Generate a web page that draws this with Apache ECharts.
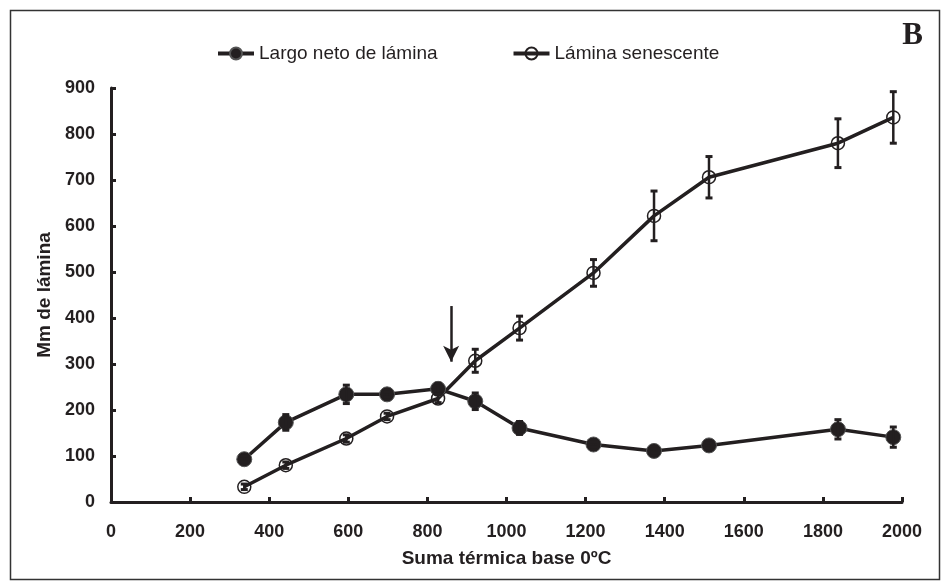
<!DOCTYPE html>
<html>
<head>
<meta charset="utf-8">
<script src="https://cdn.jsdelivr.net/npm/echarts@6/dist/echarts.min.js"></script>
<style>html,body{margin:0;padding:0;background:#fff}#c{width:943px;height:584px}</style>
</head>
<body>
<div id="c"></div>
<script>
const xValues = [337, 442, 595, 698, 827, 921, 1033, 1220, 1373, 1512, 1838, 1978];
const largoNeto = [93, 173, 234, 234, 246, 219, 161, 125, 111, 123, 158, 141];
const largoNetoErr = [6, 17, 20, 6, 12, 18, 14, 5, 5, 5, 21, 22];
const senescente = [33, 80, 138, 186, 225, 307, 378, 498, 622, 706, 780, 836];
const senescenteErr = [6, 7, 8, 7, 9, 25, 26, 29, 54, 45, 53, 56];
const xTicks = [0, 200, 400, 600, 800, 1000, 1200, 1400, 1600, 1800, 2000];
const yTicks = [0, 100, 200, 300, 400, 500, 600, 700, 800, 900];
const arrowFrom = [860, 426];
const arrowTo = [860, 305];
const seriesNames = ['Largo neto de lámina', 'Lámina senescente'];

const ink = '#231f20';
const pairs = (ys) => xValues.map((x, i) => [x, ys[i]]);
const errData = (ys, es) => xValues.map((x, i) => [x, ys[i] - es[i], ys[i] + es[i]]);

function errRender(params, api) {
  const x = api.value(0);
  const lo = api.coord([x, api.value(1)]);
  const hi = api.coord([x, api.value(2)]);
  const cap = 3.5;
  const st = { stroke: ink, lineWidth: 2.5 };
  return {
    type: 'group',
    children: [
      { type: 'line', shape: { x1: lo[0], y1: lo[1], x2: hi[0], y2: hi[1] }, style: st },
      { type: 'line', shape: { x1: lo[0] - cap, y1: lo[1], x2: lo[0] + cap, y2: lo[1] }, style: { stroke: ink, lineWidth: 3 } },
      { type: 'line', shape: { x1: hi[0] - cap, y1: hi[1], x2: hi[0] + cap, y2: hi[1] }, style: { stroke: ink, lineWidth: 3 } }
    ]
  };
}

const chart = echarts.init(document.getElementById('c'), null, { renderer: 'canvas' });
const axisFont = { fontFamily: 'Liberation Sans, Arial, sans-serif', fontWeight: 'bold', fontSize: 18, color: ink };

chart.setOption({
  animation: false,
  backgroundColor: '#fff',
  graphic: [
    { type: 'rect', left: 8, top: 8, shape: { width: 929, height: 569 }, style: { fill: 'none', stroke: '#333', lineWidth: 1.5 }, z: 0 },
    { type: 'text', right: 20, top: 20, style: { text: 'B', font: 'bold 31px "Liberation Serif", "Times New Roman", serif', fill: ink } }
  ],
  legend: {
    data: seriesNames,
    top: 39,
    left: 211,
    itemGap: 74,
    itemWidth: 36,
    itemHeight: 15,
    lineStyle: { width: 4 },
    textStyle: { fontFamily: 'Liberation Sans, Arial, sans-serif', fontSize: 19, color: ink }
  },
  grid: { left: 111, right: 41, top: 88, bottom: 82 },
  xAxis: {
    type: 'value', min: 0, max: 2000, interval: 200,
    name: 'Suma térmica base 0ºC', nameLocation: 'middle', nameGap: 47,
    nameTextStyle: Object.assign({}, axisFont, { fontSize: 19 }),
    axisLine: { lineStyle: { color: ink, width: 3 } },
    axisTick: { inside: true, length: 5, lineStyle: { color: ink, width: 3 } },
    axisLabel: Object.assign({ margin: 21, formatter: (v) => xTicks.includes(v) ? String(v) : '' }, axisFont),
    splitLine: { show: false }
  },
  yAxis: {
    type: 'value', min: 0, max: 900, interval: 100,
    name: 'Mm de lámina', nameLocation: 'middle', nameGap: 53,
    nameTextStyle: Object.assign({}, axisFont, { fontSize: 19 }),
    axisLine: { show: true, lineStyle: { color: ink, width: 3 } },
    axisTick: { show: true, inside: true, length: 5, lineStyle: { color: ink, width: 3 } },
    axisLabel: Object.assign({ margin: 16, formatter: (v) => yTicks.includes(v) ? String(v) : '' }, axisFont),
    splitLine: { show: false }
  },
  series: [
    {
      name: seriesNames[0], type: 'line', data: pairs(largoNeto),
      symbol: 'circle', symbolSize: 15,
      lineStyle: { color: ink, width: 3.5 },
      itemStyle: { color: ink, borderColor: '#555', borderWidth: 1 },
      z: 3
    },
    {
      name: seriesNames[1], type: 'line', data: pairs(senescente),
      symbol: 'circle', symbolSize: 13,
      lineStyle: { color: ink, width: 3.5 },
      itemStyle: { color: 'rgba(255,255,255,0)', borderColor: ink, borderWidth: 1.5 },
      z: 3,
      markLine: {
        silent: true, symbol: ['none', 'arrow'], symbolSize: [12, 16],
        label: { show: false },
        lineStyle: { color: ink, width: 2.5, type: 'solid' },
        data: [[{ coord: arrowFrom }, { coord: arrowTo }]]
      }
    },
    { type: 'custom', data: errData(largoNeto, largoNetoErr), renderItem: errRender, z: 4, silent: true },
    { type: 'custom', data: errData(senescente, senescenteErr), renderItem: errRender, z: 4, silent: true }
  ]
});
</script>
</body>
</html>
